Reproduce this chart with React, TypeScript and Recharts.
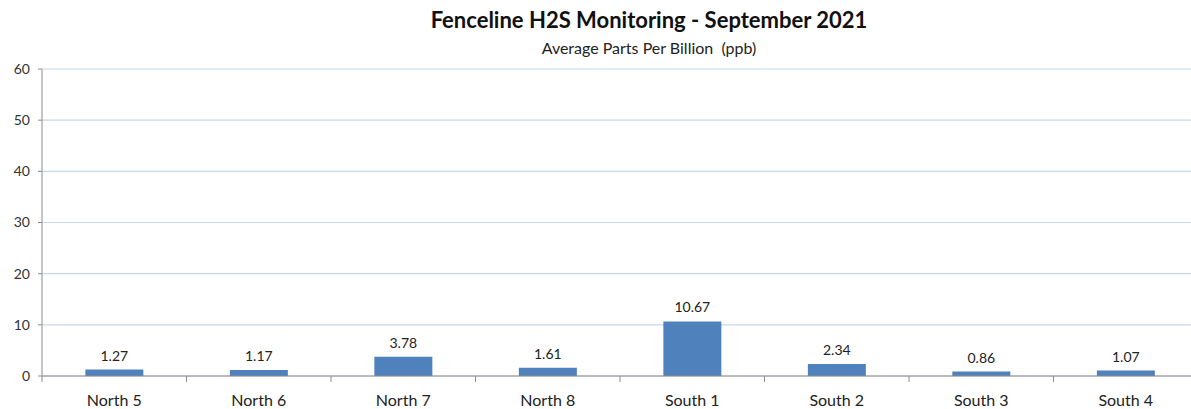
import { BarChart, Bar, XAxis, YAxis, CartesianGrid, LabelList } from "recharts";

const FONT = "Lato, 'Open Sans', sans-serif";
const BAR = "#4F81BD";
const GRID = "#C6D8EC";
const AXIS = "#8C8C8C";

const stations = ["North 5", "North 6", "North 7", "North 8", "South 1", "South 2", "South 3", "South 4"];
const ppb = [1.27, 1.17, 3.78, 1.61, 10.67, 2.34, 0.86, 1.07];
const yTicks = [0, 10, 20, 30, 40, 50, 60];

const rows = stations.map((name, i) => ({ name, value: ppb[i] }));

// category tick: label in the middle, tick mark on the left edge of the band
function StationTick(props: any) {
  const { x, y, payload, index } = props;
  const half = 144.5 / 2;
  return (
    <g>
      <line x1={x - half} y1={y - 8} x2={x - half} y2={y - 2} stroke={AXIS} />
      {index === stations.length - 1 && (
        <line x1={x + half} y1={y - 8} x2={x + half} y2={y - 2} stroke={AXIS} />
      )}
      <text x={x} y={y + 22} textAnchor="middle" fill="#222" fontSize={16} fontFamily={FONT}>
        {payload.value}
      </text>
    </g>
  );
}

export default function App() {
  return (
    <div
      style={{
        position: "absolute",
        left: 0,
        top: 0,
        width: 1191,
        height: 409,
        overflow: "hidden",
        background: "#fff",
        fontFamily: FONT,
      }}
    >
      <div
        style={{
          position: "absolute",
          top: 6,
          left: 0,
          width: 1298,
          textAlign: "center",
          fontSize: 22,
          fontWeight: 700,
          color: "#111",
        }}
      >
        Fenceline H2S Monitoring - September 2021
      </div>
      <div
        style={{
          position: "absolute",
          top: 38,
          left: 0,
          width: 1298,
          textAlign: "center",
          fontSize: 16,
          color: "#222",
        }}
      >
        Average Parts Per Billion&nbsp; (ppb)
      </div>
      <BarChart
        width={1206}
        height={409}
        data={rows}
        barCategoryGap="30%"
        margin={{ top: 69, right: 8, left: 0, bottom: 0 }}
      >
        <CartesianGrid horizontal vertical={false} stroke={GRID} strokeWidth={1.2} />
        <XAxis
          dataKey="name"
          height={33}
          stroke={AXIS}
          tickLine={false}
          tick={<StationTick />}
          interval={0}
        />
        <YAxis
          width={42}
          domain={[0, 60]}
          ticks={yTicks}
          stroke={AXIS}
          tickSize={4}
          tickMargin={8}
          tick={{ fill: "#333", fontSize: 14, fontFamily: FONT }}
        />
        <Bar dataKey="value" fill={BAR} isAnimationActive={false}>
          <LabelList
            dataKey="value"
            position="top"
            offset={9}
            fill="#222"
            fontSize={14}
            fontFamily={FONT}
            formatter={(v: any) => Number(v).toFixed(2)}
          />
        </Bar>
      </BarChart>
    </div>
  );
}
